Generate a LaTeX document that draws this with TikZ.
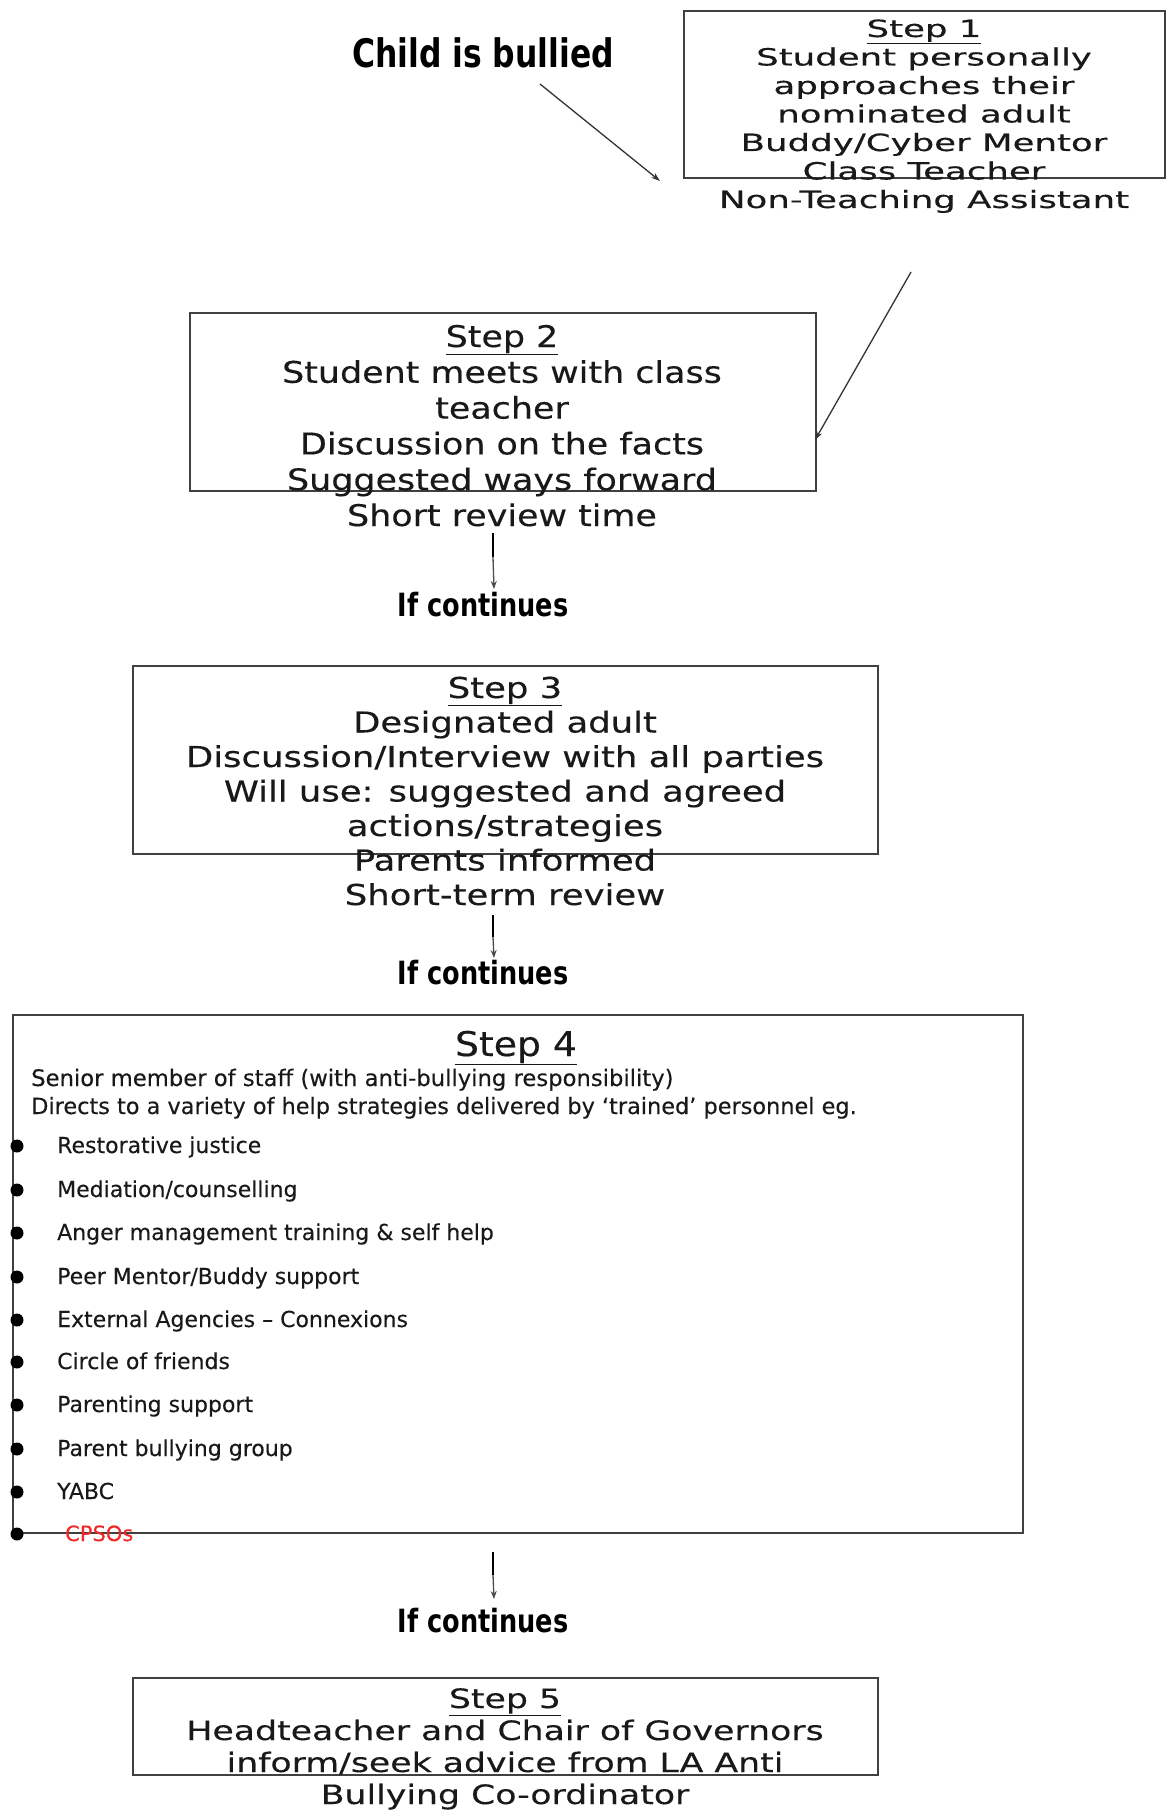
\documentclass[tikz,border=0pt]{standalone}
\usepackage{fontspec}
\usetikzlibrary{arrows.meta}
\newfontfamily\fStepA{DejaVu Sans}[FakeStretch=1.50,FakeBold=0.3]
\newfontfamily\fStepB{DejaVu Sans}[FakeStretch=1.17,FakeBold=0.3]
\newfontfamily\fStepC{DejaVu Sans}[FakeStretch=1.23,FakeBold=0.3]
\newfontfamily\fStepE{DejaVu Sans}[FakeStretch=1.30,FakeBold=0.3]
\newfontfamily\fStepD{DejaVu Sans}[FakeStretch=1.00,FakeBold=0.2]
\newfontfamily\fTitleD{DejaVu Sans}[FakeStretch=1.11,FakeBold=0.4]
\newfontfamily\fBoldN{DejaVu Sans}[FakeStretch=0.8]
\definecolor{cpsored}{RGB}{240,40,40}
\begin{document}
\begin{tikzpicture}[x=1pt,y=-1pt,
  boxframe/.style={draw=black!75, line width=1.6pt, inner sep=0pt, anchor=north west, rectangle},
  steptext/.style={align=center, inner sep=0pt, anchor=base, text=black!90},
  boldlabel/.style={inner sep=0pt, anchor=base, text=black, font=\fBoldN\bfseries\fontsize{32}{36}\selectfont},
  itemtext/.style={inner sep=0pt, anchor=base west, text=black!90, font=\fStepD\fontsize{22}{26}\selectfont},
  bulletdot/.style={circle, fill=black, inner sep=0pt, minimum size=13pt},
  conn/.style={draw=black!80, line width=1.3pt, -{Stealth[length=9pt,width=6pt]}},
  stem/.style={draw=black, line width=2.6pt},
  stemtip/.style={draw=black!70, line width=1.3pt, -{Stealth[length=8pt,width=6pt]}}
]
\useasboundingbox (0,0) rectangle (1166,1811);
\fill[white] (0,0) rectangle (1166,1811);

% boxes
\node[boxframe, minimum width=481pt, minimum height=167pt] (box1) at (683,10) {};
\node[boxframe, minimum width=626pt, minimum height=178pt] (box2) at (189,312) {};
\node[boxframe, minimum width=745pt, minimum height=188pt] (box3) at (132,665) {};
\node[boxframe, minimum width=1010pt, minimum height=518pt] (box4) at (12,1014) {};
\node[boxframe, minimum width=745pt, minimum height=97pt] (box5) at (132,1677) {};

% start label
\node[boldlabel, font=\fBoldN\bfseries\fontsize{39.3}{44}\selectfont] (child) at (483,68) {Child is bullied};

% step 1 (anchor = baseline of last line)
\node[steptext, font=\fStepA\fontsize{23.7}{28.5}\selectfont] (t1) at (924,208)
  {\underline{Step 1}\\Student personally\\approaches their\\nominated adult\\Buddy/Cyber Mentor\\Class Teacher\\Non-Teaching Assistant};

% step 2
\node[steptext, font=\fStepB\fontsize{29.8}{35.8}\selectfont] (t2) at (502,526)
  {\underline{Step 2}\\Student meets with class\\teacher\\Discussion on the facts\\Suggested ways forward\\Short review time};

% step 3
\node[steptext, font=\fStepC\fontsize{28.8}{34.5}\selectfont] (t3) at (505,905)
  {\underline{Step 3}\\Designated adult\\Discussion/Interview with all parties\\Will use: suggested and agreed\\actions/strategies\\Parents informed\\Short-term review};

% step 4
\node[steptext, font=\fTitleD\fontsize{34}{40}\selectfont] (t4) at (516,1056) {\underline{Step 4}};
\node[itemtext, font=\fStepD\fontsize{22.7}{26}\selectfont] (s4a) at (31,1086) {Senior member of staff (with anti-bullying responsibility)};
\node[itemtext, font=\fStepD\fontsize{22.4}{26}\selectfont] (s4b) at (31,1114) {Directs to a variety of help strategies delivered by ‘trained’ personnel eg.};

\node[bulletdot] (b1) at (17,1146) {};
\node[bulletdot] (b2) at (17,1190) {};
\node[bulletdot] (b3) at (17,1233) {};
\node[bulletdot] (b4) at (17,1277) {};
\node[bulletdot] (b5) at (17,1320) {};
\node[bulletdot] (b6) at (17,1362) {};
\node[bulletdot] (b7) at (17,1405) {};
\node[bulletdot] (b8) at (17,1449) {};
\node[bulletdot] (b9) at (17,1492) {};
\node[bulletdot] (b10) at (17,1534) {};

\node[itemtext] (i1) at (57,1153) {Restorative justice};
\node[itemtext] (i2) at (57,1197) {Mediation/counselling};
\node[itemtext] (i3) at (57,1240) {Anger management training \& self help};
\node[itemtext] (i4) at (57,1284) {Peer Mentor/Buddy support};
\node[itemtext] (i5) at (57,1327) {External Agencies – Connexions};
\node[itemtext] (i6) at (57,1369) {Circle of friends};
\node[itemtext] (i7) at (57,1412) {Parenting support};
\node[itemtext] (i8) at (57,1456) {Parent bullying group};
\node[itemtext] (i9) at (57,1499) {YABC};
\node[itemtext, text=cpsored, font=\fStepD\fontsize{21}{24}\selectfont] (i10) at (65,1541) {CPSOs};

% step 5
\node[steptext, font=\fStepE\fontsize{26.7}{32}\selectfont] (t5) at (505,1804)
  {\underline{Step 5}\\Headteacher and Chair of Governors\\inform/seek advice from LA Anti\\Bullying Co-ordinator};

% "If continues" labels
\node[boldlabel] (ic1) at (483,616.5) {If continues};
\node[boldlabel] (ic2) at (483,984.5) {If continues};
\node[boldlabel] (ic3) at (483,1632.5) {If continues};

% connectors
\coordinate (a1s) at (540,84);
\coordinate (a1e) at (660,181);
\draw[conn] (a1s) -- (a1e);

\coordinate (a2s) at (911,272);
\coordinate (a2e) at (815,440);
\draw[conn] (a2s) -- (a2e);

\coordinate (v1a) at (493,533);
\coordinate (v1b) at (493,557);
\coordinate (v1c) at (494,589);
\draw[stem] (v1a) -- (v1b);
\draw[stemtip] (v1b) -- (v1c);

\coordinate (v2a) at (493,915);
\coordinate (v2b) at (493,937);
\coordinate (v2c) at (494,958);
\draw[stem] (v2a) -- (v2b);
\draw[stemtip] (v2b) -- (v2c);

\coordinate (v3a) at (493,1552);
\coordinate (v3b) at (493,1575);
\coordinate (v3c) at (494,1599);
\draw[stem] (v3a) -- (v3b);
\draw[stemtip] (v3b) -- (v3c);
\end{tikzpicture}
\end{document}
